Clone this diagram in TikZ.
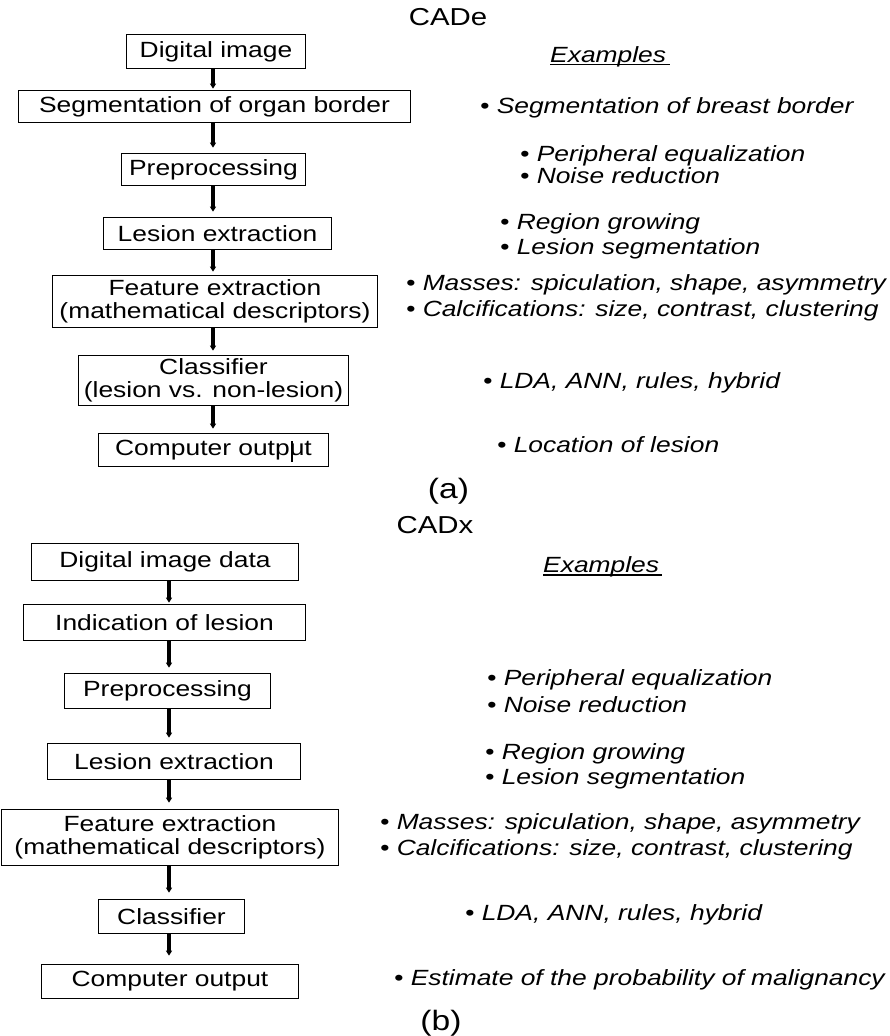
\documentclass[tikz,border=0pt]{standalone}
\usepackage{fontspec}
\setmainfont{Liberation Sans}[FakeStretch=1.2]
\usetikzlibrary{arrows.meta}

\begin{document}
\begin{tikzpicture}[x=1pt,y=-1pt,
  stage/.style={draw=black, line width=1.7pt, inner sep=0pt, align=center,
    font=\fontsize{22}{22.5}\selectfont},
  note/.style={anchor=base west, inner sep=0pt,
    font=\fontsize{22}{22.5}\selectfont\itshape},
  heading/.style={inner sep=0pt, font=\fontsize{24.5}{26}\selectfont},
  partlabel/.style={inner sep=0pt, font=\fontsize{28}{30}\selectfont},
  flow/.style={line width=3.4pt, -{Triangle[width=6pt,length=5pt]}},
  uline/.style={line width=1.3pt}
]
\useasboundingbox (0,0) rectangle (889,1036);

% ---------- (a) CADe ----------
\node[heading] (cade) at (448,17.5) {CADe};

\node[stage, minimum width=179pt, minimum height=34pt] (a1) at (216,51.5) {Digital image};
\node[stage, minimum width=392pt, minimum height=32pt] (a2) at (214.5,106.5) {Segmentation of organ border};
\node[stage, minimum width=184pt, minimum height=32pt] (a3) at (213.5,169.5) {Preprocessing};
\node[stage, minimum width=228pt, minimum height=32pt] (a4) at (217.5,233.5) {Lesion extraction};
\node[stage, minimum width=325pt, minimum height=52pt] (a5) at (215,301.5) {Feature extraction\\(mathematical descriptors)};
\node[stage, minimum width=270pt, minimum height=50pt] (a6) at (213.5,380.5) {Classifier\\(lesion vs. non-lesion)};
\node[stage, minimum width=230pt, minimum height=33pt] (a7) at (213.5,450) {Computer output};

\coordinate (ax) at (213,0);
\draw[flow, shorten >=1pt] (a1.south -| ax) -- (a2.north -| ax);
\draw[flow, shorten >=5pt] (a2.south -| ax) -- (a3.north -| ax);
\draw[flow, shorten >=5pt] (a3.south -| ax) -- (a4.north -| ax);
\draw[flow, shorten >=3pt] (a4.south -| ax) -- (a5.north -| ax);
\draw[flow, shorten >=4pt] (a5.south -| ax) -- (a6.north -| ax);
\draw[flow, shorten >=4pt] (a6.south -| ax) -- (a7.north -| ax);

% text cursor mark inside the last box
\coordinate (cur1) at (292,441);
\coordinate (cur2) at (292,462);
\draw[line width=1.1pt] (cur1) -- (cur2);

\node[note] (exa) at (550,62) {Examples};
\draw[uline] ([yshift=-2.5pt]exa.base west) -- ([yshift=-2.5pt,xshift=4pt]exa.base east);
\node[note] (na1) at (480,113) {• Segmentation of breast border};
\node[note] (na2) at (520,161) {• Peripheral equalization};
\node[note] (na3) at (520,183) {• Noise reduction};
\node[note] (na4) at (500,229) {• Region growing};
\node[note] (na5) at (500,254) {• Lesion segmentation};
\node[note] (na6) at (406,290) {• Masses: spiculation, shape, asymmetry};
\node[note] (na7) at (406,316) {• Calcifications: size, contrast, clustering};
\node[note] (na8) at (483,388) {• LDA, ANN, rules, hybrid};
\node[note] (na9) at (497,452) {• Location of lesion};

\node[partlabel] (labela) at (448.5,491.5) {(a)};

% ---------- (b) CADx ----------
\node[heading] (cadx) at (435,525.5) {CADx};

\node[stage, minimum width=267pt, minimum height=37pt] (b1) at (165,562) {Digital image data};
\node[stage, minimum width=282pt, minimum height=36pt] (b2) at (164.5,622.5) {Indication of lesion};
\node[stage, minimum width=206pt, minimum height=35pt] (b3) at (167.5,691) {Preprocessing};
\node[stage, minimum width=253pt, minimum height=36pt] (b4) at (174,761.5) {Lesion extraction};
\node[stage, minimum width=337pt, minimum height=56pt] (b5) at (170,837.5) {Feature extraction\\(mathematical descriptors)};
\node[stage, minimum width=146pt, minimum height=34pt] (b6) at (171.5,916.5) {Classifier};
\node[stage, minimum width=257pt, minimum height=34pt] (b7) at (170,981.5) {Computer output};

\coordinate (bx) at (169,0);
\draw[flow, shorten >=1pt] (b1.south -| bx) -- (b2.north -| bx);
\draw[flow, shorten >=5pt] (b2.south -| bx) -- (b3.north -| bx);
\draw[flow, shorten >=5pt] (b3.south -| bx) -- (b4.north -| bx);
\draw[flow, shorten >=6pt] (b4.south -| bx) -- (b5.north -| bx);
\draw[flow, shorten >=6pt] (b5.south -| bx) -- (b6.north -| bx);
\draw[flow, shorten >=8pt] (b6.south -| bx) -- (b7.north -| bx);

\node[note] (exb) at (543,572) {Examples};
\draw[uline] ([yshift=-3pt]exb.base west) -- ([yshift=-3pt,xshift=3pt]exb.base east);
\node[note] (nb1) at (487,685) {• Peripheral equalization};
\node[note] (nb2) at (487,712) {• Noise reduction};
\node[note] (nb3) at (485,759) {• Region growing};
\node[note] (nb4) at (485,784) {• Lesion segmentation};
\node[note] (nb5) at (380,829) {• Masses: spiculation, shape, asymmetry};
\node[note] (nb6) at (380,855) {• Calcifications: size, contrast, clustering};
\node[note] (nb7) at (465,920) {• LDA, ANN, rules, hybrid};
\node[note] (nb8) at (394,985) {• Estimate of the probability of malignancy};

\node[partlabel] (labelb) at (441,1023) {(b)};
\end{tikzpicture}
\end{document}
